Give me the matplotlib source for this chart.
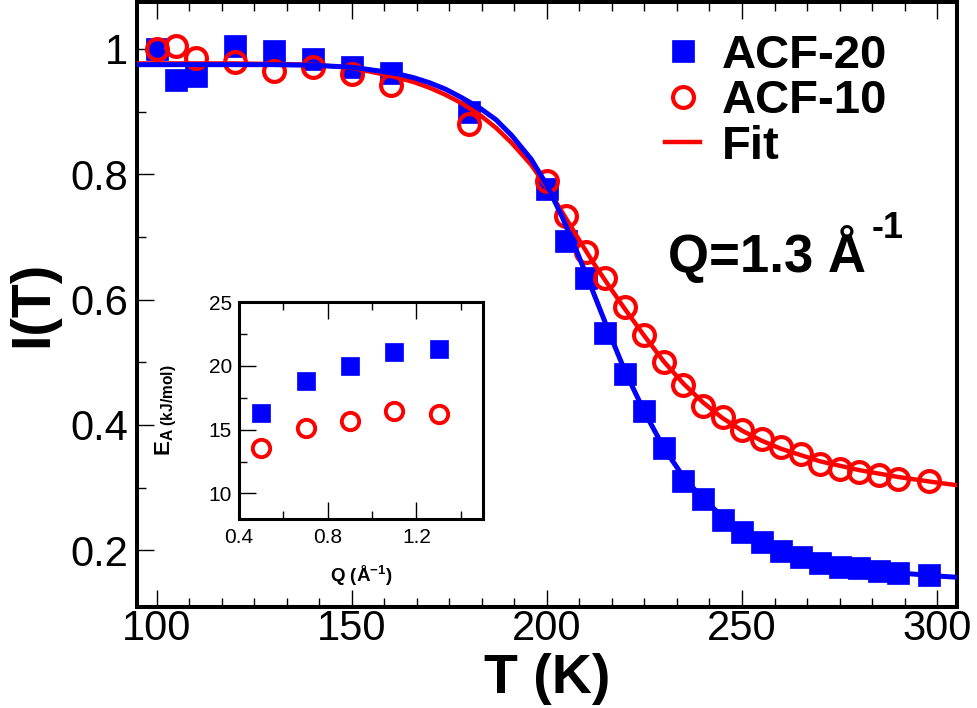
import matplotlib
matplotlib.use('Agg')
import matplotlib.pyplot as plt
from matplotlib.ticker import MultipleLocator, FuncFormatter

plt.rcParams['font.family'] = ['Liberation Sans', 'DejaVu Sans']
plt.rcParams['mathtext.fontset'] = 'custom'
plt.rcParams['mathtext.rm'] = 'Liberation Sans'
plt.rcParams['mathtext.bf'] = 'Liberation Sans:bold'
plt.rcParams['mathtext.it'] = 'Liberation Sans:italic'

# ---------------- data ----------------
T_acf20 = [100, 105, 110, 120, 130, 140, 150, 160, 180, 200, 205, 210, 215, 220, 225,
           230, 235, 240, 245, 250, 255, 260, 265, 270, 275, 280, 285, 290, 298]
I_acf20 = [1.000, 0.951, 0.957, 1.005, 0.997, 0.984, 0.971, 0.961, 0.900, 0.776, 0.693,
           0.634, 0.547, 0.482, 0.423, 0.363, 0.310, 0.282, 0.249, 0.229, 0.213, 0.199,
           0.190, 0.179, 0.173, 0.171, 0.167, 0.164, 0.161]

T_acf10 = [100, 105, 110, 120, 130, 140, 150, 160, 180, 200, 205, 210, 215, 220, 225,
           230, 235, 240, 245, 250, 255, 260, 265, 270, 275, 280, 285, 290, 298]
I_acf10 = [1.000, 1.005, 0.986, 0.980, 0.965, 0.971, 0.960, 0.943, 0.880, 0.789, 0.734,
           0.676, 0.634, 0.588, 0.544, 0.500, 0.463, 0.431, 0.413, 0.392, 0.378, 0.365,
           0.353, 0.338, 0.330, 0.325, 0.320, 0.314, 0.311]

T_fit = [95, 110, 120, 130, 140, 150, 157, 162, 166, 170, 174, 178, 183, 187, 191, 196,
         200, 204, 208, 212, 216, 220, 225, 230, 235, 240, 245, 250, 255, 260, 270, 280,
         290, 300, 305]
I_fit_acf20 = [0.975, 0.975, 0.975, 0.975, 0.974, 0.971, 0.965, 0.960, 0.954, 0.946,
               0.936, 0.923, 0.905, 0.887, 0.862, 0.824, 0.783, 0.731, 0.672, 0.610,
               0.547, 0.486, 0.421, 0.363, 0.317, 0.282, 0.254, 0.232, 0.215, 0.202,
               0.184, 0.172, 0.164, 0.159, 0.157]
I_fit_acf10 = [0.977, 0.977, 0.977, 0.976, 0.975, 0.970, 0.961, 0.954, 0.947, 0.938,
               0.927, 0.914, 0.894, 0.874, 0.850, 0.815, 0.779, 0.739, 0.698, 0.658,
               0.621, 0.585, 0.542, 0.501, 0.466, 0.436, 0.411, 0.391, 0.375, 0.362,
               0.342, 0.328, 0.317, 0.308, 0.304]

Q_inset = [0.5, 0.7, 0.9, 1.1, 1.3]
EA_acf20 = [16.3, 18.8, 20.0, 21.1, 21.3]
EA_acf10 = [13.6, 15.1, 15.7, 16.5, 16.2]

x_ticks = [100, 150, 200, 250, 300]
y_ticks = [0.2, 0.4, 0.6, 0.8, 1.0]
ins_x_ticks = [0.4, 0.8, 1.2]
ins_y_ticks = [10, 15, 20, 25]

BLUE = '#0000ff'
RED = '#ff0000'

W, H = 978, 708
fig = plt.figure(figsize=(W / 100, H / 100), dpi=100)

# ---------------- main axes ----------------
L, R, TOP, BOT = 137, 956.7, 2, 606.7
ax = fig.add_axes([L / W, 1 - BOT / H, (R - L) / W, (BOT - TOP) / H])

ax.plot(T_acf20, I_acf20, ls='none', marker='s', ms=16, color=BLUE, mec=BLUE, mew=0.5,
        label='ACF-20', zorder=2)
ax.plot(T_acf10, I_acf10, ls='none', marker='o', ms=15, mfc='none', mec=RED, mew=3,
        label='ACF-10', zorder=3)
ax.plot(T_fit, I_fit_acf10, color=RED, lw=3.2, label='Fit', zorder=4,
        solid_joinstyle='round')
ax.plot(T_fit, I_fit_acf20, color=BLUE, lw=3.6, zorder=5, solid_joinstyle='round')

ax.set_xlim(95, 305)
ax.set_ylim(0.11, 1.075)
ax.set_xticks(x_ticks)
ax.set_yticks(y_ticks)
ax.xaxis.set_minor_locator(MultipleLocator(50 / 6))
ax.yaxis.set_minor_locator(MultipleLocator(0.1))
fmt = FuncFormatter(lambda v, p: '%g' % v)
ax.xaxis.set_major_formatter(fmt)
ax.yaxis.set_major_formatter(fmt)

for s in ax.spines.values():
    s.set_linewidth(2.9)
ax.tick_params(which='both', direction='in', top=True, right=False, width=1.0,
               labelsize=30)
ax.tick_params(which='major', length=12)
ax.tick_params(which='minor', length=6.5)
ax.tick_params(axis='x', pad=1.5)
ax.tick_params(axis='y', pad=6.5)

ax.set_xlabel('T (K)', fontsize=40, fontweight='bold', va='baseline')
ax.xaxis.set_label_coords(0.5, (BOT - 693) / (BOT - TOP))
ax.set_ylabel('I(T)', fontsize=40, fontweight='bold', va='center', ha='center')
ax.yaxis.set_label_coords((33 - L) / (R - L), 0.5)

ax.text((668 - L) / (R - L), (BOT - 271.7) / (BOT - TOP), 'Q=1.3 Å',
        transform=ax.transAxes, fontsize=38, fontweight='bold', va='baseline', ha='left')
ax.text((872 - L) / (R - L), (BOT - 238) / (BOT - TOP), '-1',
        transform=ax.transAxes, fontsize=26, fontweight='bold', va='baseline', ha='left')

leg = ax.legend(loc='upper left', bbox_to_anchor=(665 / W, 1 - 34 / H),
                bbox_transform=fig.transFigure, frameon=False, numpoints=1,
                prop={'family': 'Liberation Sans', 'weight': 'bold', 'size': 34},
                handlelength=0.75, handletextpad=0.45, labelspacing=0.03,
                borderpad=0, borderaxespad=0)

# ---------------- inset ----------------
iL, iR, iT, iB = 239, 483, 302, 519
ins = fig.add_axes([iL / W, 1 - iB / H, (iR - iL) / W, (iB - iT) / H])
ins.set_facecolor('white')
ins.plot(Q_inset, EA_acf20, ls='none', marker='s', ms=13.5, color=BLUE, mec=BLUE, mew=0.5)
ins.plot(Q_inset, EA_acf10, ls='none', marker='o', ms=12.5, mfc='none', mec=RED, mew=2.8)
ins.set_xlim(0.4, 1.5)
ins.set_ylim(8, 25)
ins.set_xticks(ins_x_ticks)
ins.set_yticks(ins_y_ticks)
ins.xaxis.set_minor_locator(MultipleLocator(0.2))
ins.yaxis.set_minor_locator(MultipleLocator(2.5))
ins.xaxis.set_major_formatter(fmt)
ins.yaxis.set_major_formatter(fmt)
for s in ins.spines.values():
    s.set_linewidth(2.2)
ins.tick_params(which='both', direction='in', top=True, right=False, width=1.0,
                labelsize=15)
ins.tick_params(which='major', length=12)
ins.tick_params(which='minor', length=6)
ins.tick_params(axis='x', pad=6.5)
ins.tick_params(axis='y', pad=5)
ins.set_xlabel('Q (Å$^{\\mathbf{-1}}$)', fontsize=13.5, fontweight='bold', va='baseline')
ins.xaxis.set_label_coords(0.5, (iB - 581.7) / (iB - iT))
ins.set_ylabel('E$_{\\mathbf{A\\ (kJ/mol)}}$', fontsize=16, fontweight='bold',
               va='center', ha='center')
ins.yaxis.set_label_coords((166 - iL) / (iR - iL), 0.5)

fig.savefig('out.png', dpi=100)
